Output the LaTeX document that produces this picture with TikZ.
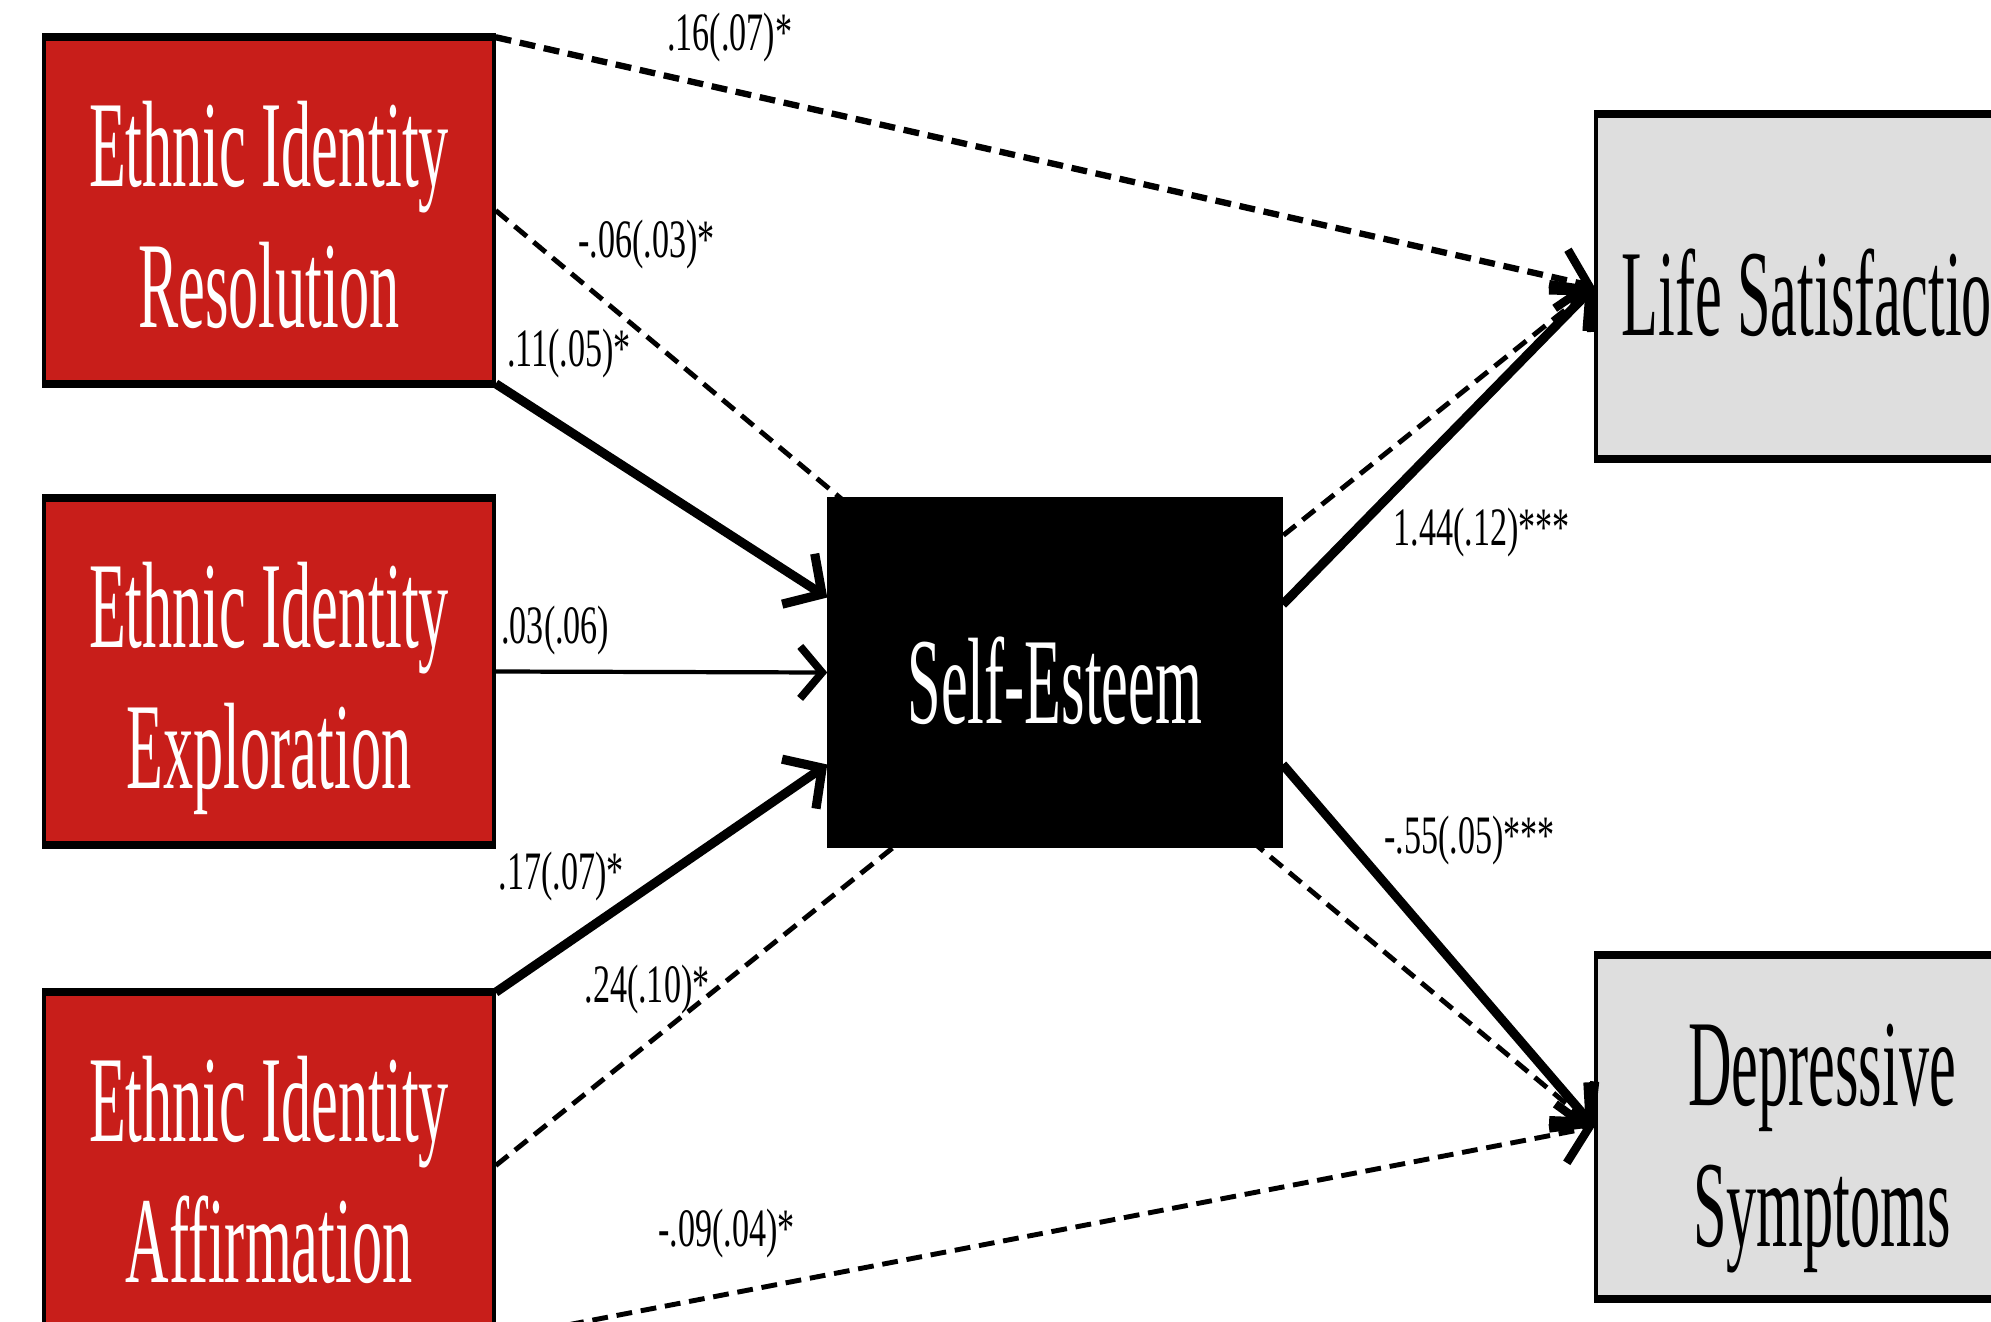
\documentclass[tikz,border=0pt]{standalone}
\usepackage{fontspec}
\usetikzlibrary{arrows.meta,backgrounds}
\newfontfamily\boxfont[FakeStretch=0.49]{Liberation Serif}
\newfontfamily\coeffont[FakeStretch=0.63]{Liberation Serif}
\definecolor{eired}{HTML}{C81E1A}
\definecolor{outgray}{HTML}{DEDEDE}

\tikzset{
  box/.style={draw, line width=1pt, align=center, inner sep=0pt, text depth=0pt,
    font=\boxfont\fontsize{35}{40}\selectfont},
  predictor/.style={box, fill=eired, text=white, minimum width=4.5cm, minimum height=3.43cm,
    text height=2.34cm},
  mediator/.style={box, fill=black, text=white, minimum width=4.52cm, minimum height=3.47cm,
    text height=1.01cm},
  outcome/.style={box, fill=outgray, minimum width=4.52cm, minimum height=3.41cm},
  sigpath/.style={line width=2.6pt, -{Straight Barb[length=2.8mm,width=6mm]}},
  nspath/.style={line width=1.2pt, -{Straight Barb[length=2.2mm,width=5.2mm,line width=2.2pt]}},
  directpath/.style={line width=1.4pt, dash pattern=on 4.5pt off 2.5pt,
    -{Straight Barb[length=2.8mm,width=6mm,line width=2.4pt]}},
  coef/.style={font=\coeffont\fontsize{15.4}{18}\selectfont, inner sep=1pt}
}

\begin{document}
\begin{tikzpicture}
  \useasboundingbox (0,0) rectangle (19.91,-13.22);
  % Define nodes
  \node[predictor] (res) at (2.69,-2.105)  {Ethnic Identity\\Resolution};
  \node[predictor] (exp) at (2.69,-6.715)  {Ethnic Identity\\Exploration};
  \node[predictor] (aff) at (2.69,-11.655) {Ethnic Identity\\Affirmation};
  \node[mediator]  (se)  at (10.55,-6.725) {Self-Esteem};
  \node[outcome, text height=0.97cm] (ls) at (18.22,-2.865) {Life Satisfaction};
  \node[outcome, text height=2.38cm] (ds) at (18.22,-11.27) {Depressive\\Symptoms};
  \foreach \n in {res,exp,aff,ls,ds}
    \draw[line width=2.2pt] (\n.north west) -- (\n.north east) (\n.south west) -- (\n.south east);

  % Direct paths (behind the mediator)
  \begin{pgfonlayer}{background}
    \draw[directpath, line width=1.8pt] (res.north east) -- node[coef, pos=.15, anchor=south west, yshift=0.6mm] {.16(.07)*} (ls.west);
    \draw[directpath] (res.east) -- node[coef, pos=.07, anchor=south west] {-.06(.03)*} (ds.west);
    \draw[directpath] (aff.east) -- node[coef, pos=.2, left] {.24(.10)*} (ls.west);
    \draw[directpath] (aff.south east) -- node[coef, pos=.21, above=3mm] {-.09(.04)*} (ds.west);
  \end{pgfonlayer}

  % Paths through self-esteem
  \draw[sigpath] (res.south east) -- node[coef, pos=.01, anchor=south west] {.11(.05)*} ([yshift=7.5mm]se.west);
  \draw[nspath] (exp.east) -- node[coef, pos=0, anchor=south west, yshift=1.1mm] {.03(.06)} (se.west);
  \draw[sigpath] (aff.north east) -- node[coef, pos=.41, anchor=south east, yshift=-1mm] {.17(.07)*} ([yshift=-9.2mm]se.west);
  \draw[sigpath] ([yshift=6.8mm]se.east) -- node[coef, pos=.33, anchor=north west] {1.44(.12)***} (ls.west);
  \draw[sigpath] ([yshift=-9.2mm]se.east) -- node[coef, pos=.3, anchor=south west] {-.55(.05)***} (ds.west);
\end{tikzpicture}
\end{document}
